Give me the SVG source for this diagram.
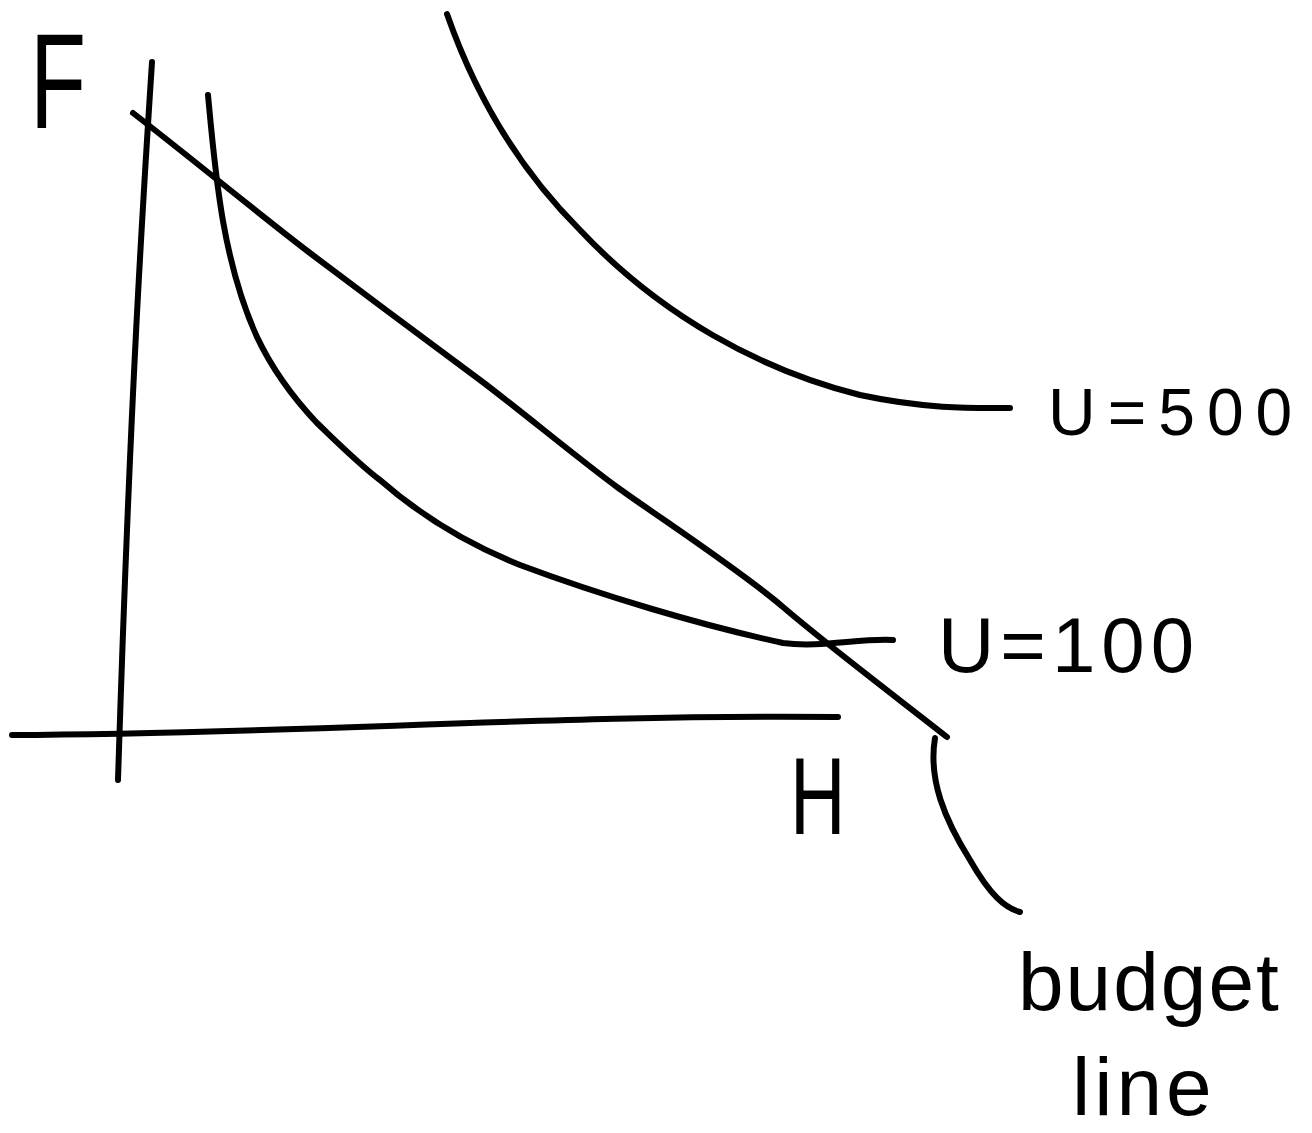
<svg xmlns="http://www.w3.org/2000/svg" width="1312" height="1133" viewBox="0 0 1312 1133">
<style>
.ln{fill:none;stroke:#000;stroke-width:6;stroke-linecap:round;stroke-linejoin:round}
.tx{font-family:"Liberation Sans",Arial,sans-serif;fill:#000}
</style>
<rect width="1312" height="1133" fill="#fff"/>
<g id="axes">
<path class="ln" d="M152,62 C143,200 130,400 118,780"/>
<path class="ln" d="M12,735 C300,734 560,714 838,717"/>
</g>
<g id="budget-line">
<path class="ln" d="M133,113 C200,165 260,215 310,253 S440,350 480,380 S580,460 617,487 S740,570 783,607 S900,700 947,737"/>
<path class="ln" d="M935,738 C928,780 945,820 970,860 C990,895 1005,908 1020,912"/>
</g>
<g id="u100">
<path class="ln" d="M208,95 C215,170 222,260 257,337 C275,375 300,405 317,423 C340,445 360,465 380,480 C420,515 470,545 520,565 C600,595 700,625 783,643 C820,648 860,638 893,640"/>
</g>
<g id="u500">
<path class="ln" d="M447,14 C470,80 510,160 580,230 C660,315 760,370 860,395 C930,410 980,408 1010,408"/>
</g>
<g id="labels">
<text class="tx" x="30" y="128" font-size="135" transform="translate(30 0) scale(0.68 1) translate(-30 0)">F</text>
<text class="tx" x="790" y="834" font-size="110" transform="translate(790 0) scale(0.7 1) translate(-790 0)">H</text>
<text class="tx" x="938" y="672" font-size="78" letter-spacing="6">U=100</text>
<text class="tx" x="1048" y="435" font-size="66" letter-spacing="12">U=500</text>
<text class="tx" x="1018" y="1010" font-size="82" letter-spacing="2">budget</text>
<text class="tx" x="1072" y="1115" font-size="82" letter-spacing="4">line</text>
</g>
</svg>
